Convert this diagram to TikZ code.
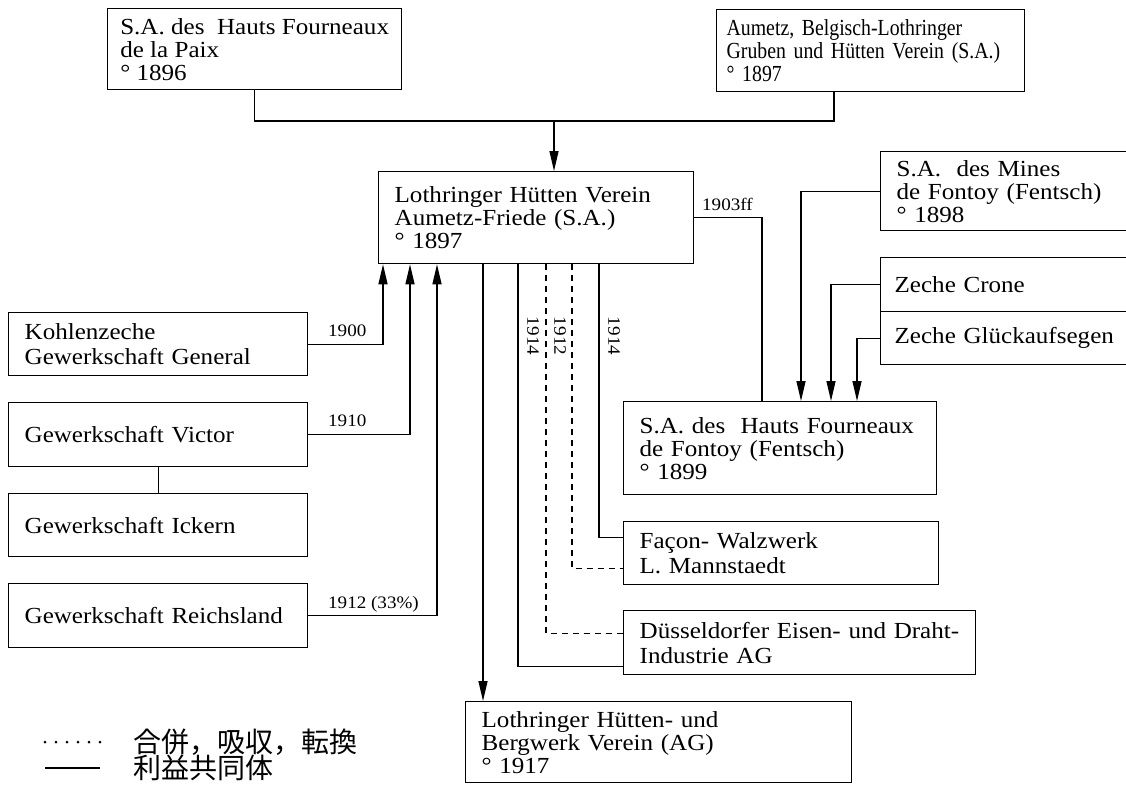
\documentclass[tikz,border=0pt]{standalone}
\usepackage{fontspec}
\setmainfont{Liberation Serif}[FakeStretch=1.09]
\newfontfamily\narrowserif{Liberation Serif}[FakeStretch=0.86]
\newfontfamily\jpfont{Noto Sans CJK JP}
\usetikzlibrary{arrows.meta,calc}

\tikzset{
  firm/.style={draw, line width=1.3pt, rectangle, anchor=north west, align=left,
    inner xsep=16pt, inner ysep=0pt, font=\fontsize{23}{23}\selectfont},
  yr/.style={font=\fontsize{17.5}{17.5}\selectfont, inner sep=0pt},
  legendtext/.style={anchor=west, inner sep=0pt, font=\jpfont\fontsize{28}{28}\selectfont},
  link/.style={line width=1.3pt},
  arr/.style={link, -{Triangle[length=20pt,width=9pt]}},
  merge/.style={link, dash pattern=on 6pt off 5pt},
}

\begin{document}
\begin{tikzpicture}[x=1pt,y=-1pt]
    \useasboundingbox (0,0) rectangle (1126,790);
        \node[firm, inner xsep=2pt, minimum width=294pt, minimum height=81pt] (paix) at (107,8)
            {S.A. des\ \ Hauts Fourneaux\\de la Paix\\° 1896};
        \node[firm, inner xsep=10pt, text width=288pt, minimum height=82pt,
              font=\narrowserif\fontsize{23}{23}\selectfont] (aumetz) at (716,9)
            {Aumetz, Belgisch-Lothringer\\Gruben und Hütten Verein (S.A.)\\° 1897};
        \node[firm, text width=283pt, minimum height=92pt] (lhv) at (378,171)
            {Lothringer Hütten Verein\\Aumetz-Friede (S.A.)\\° 1897};
        \node[firm, text width=228pt, minimum height=79pt] (mines) at (880,151)
            {S.A.\ \ des Mines\\de Fontoy (Fentsch)\\° 1898};
        \node[firm, inner xsep=14pt, text width=232pt, minimum height=54pt] (crone) at (880,257)
            {Zeche Crone};
        \node[firm, inner xsep=14pt, text width=232pt, minimum height=53pt] (glueck) at (880,311)
            {Zeche Glückaufsegen};
        \node[firm, text width=281pt, minimum height=93pt] (fontoy) at (623,401)
            {S.A. des\ \ Hauts Fourneaux\\de Fontoy (Fentsch)\\° 1899};
        \node[firm, text width=283pt, minimum height=63pt] (facon) at (623,521)
            {Façon- Walzwerk\\[2pt]L. Mannstaedt};
        \node[firm, text width=320pt, minimum height=64pt] (dues) at (623,610)
            {Düsseldorfer Eisen- und Draht-\\[2pt]Industrie AG};
        \node[firm, text width=354pt, minimum height=81pt] (lhbv) at (465,701)
            {Lothringer Hütten- und\\Bergwerk Verein (AG)\\° 1917};
        \node[firm, text width=267pt, minimum height=63pt] (general) at (8,312)
            {Kohlenzeche\\[2pt]Gewerkschaft General};
        \node[firm, text width=267pt, minimum height=64pt] (victor) at (8,402)
            {Gewerkschaft Victor};
        \node[firm, text width=267pt, minimum height=63pt] (ickern) at (8,493)
            {Gewerkschaft Ickern};
        \node[firm, text width=267pt, minimum height=64pt] (reichs) at (8,583)
            {Gewerkschaft Reichsland};

        \coordinate (join) at (554,121);
        \coordinate (down) at ($(lhv.south west)+(105,0)$);
        \draw[link] (paix.south) |- (join) -| ($(aumetz.south west)+(118,0)$);
        \begin{scope}[arr]
            \draw (join) -- (join |- lhv.north);
            \draw (general.east) -| ($(lhv.south west)+(5,0)$);
            \draw (victor.east) -| ($(lhv.south west)+(32,0)$);
            \draw (reichs.east) -| ($(lhv.south west)+(59,0)$);
            \draw (down) -- (down |- lhbv.north);
            \draw (mines.west) -| ($(fontoy.north west)+(178,0)$);
            \draw (crone.west) -| ($(fontoy.north west)+(208,0)$);
            \draw (glueck.west) -| ($(fontoy.north west)+(234,0)$);
        \end{scope}
        \draw[link] (victor.south) -- (ickern.north);
        \draw[link] (lhv.east) -| ($(fontoy.north west)+(139,0)$);
        \draw[link] ($(lhv.south west)+(140,0)$) |- ($(dues.west)+(0,24)$);
        \draw[merge] ($(lhv.south west)+(168,0)$) |- ($(dues.west)+(0,-9)$);
        \draw[merge] ($(lhv.south west)+(194,0)$) |- ($(facon.west)+(0,15.5)$);
        \draw[link] ($(lhv.south west)+(221,0)$) |- ($(facon.west)+(0,-15.5)$);

        \node[yr, anchor=base west] (y1900) at (328,336) {1900};
        \node[yr, anchor=base west] (y1910) at (328,426) {1910};
        \node[yr, anchor=base west] (y1912p) at (328,608) {1912 (33\%)};
        \node[yr, anchor=base west] (y1903) at (702,210) {1903ff};
        \node[yr, rotate=-90] (y1914a) at (533,336) {1914};
        \node[yr, rotate=-90] (y1912) at (560,336) {1912};
        \node[yr, rotate=-90] (y1914b) at (614,336) {1914};

        \node[legendtext] (lgmerge) at (133,742) {合併，吸収，転換};
        \node[legendtext] (lgcomm) at (133,768) {利益共同体};
        \draw[dash pattern=on 0pt off 11pt, line cap=round, line width=3pt]
            ($(lgmerge.west)+(-88,0)$) -- ($(lgmerge.west)+(-32,0)$);
        \draw[link] ($(lgcomm.west)+(-88,0)$) -- ($(lgcomm.west)+(-33,0)$);
  \end{tikzpicture}
\end{document}
